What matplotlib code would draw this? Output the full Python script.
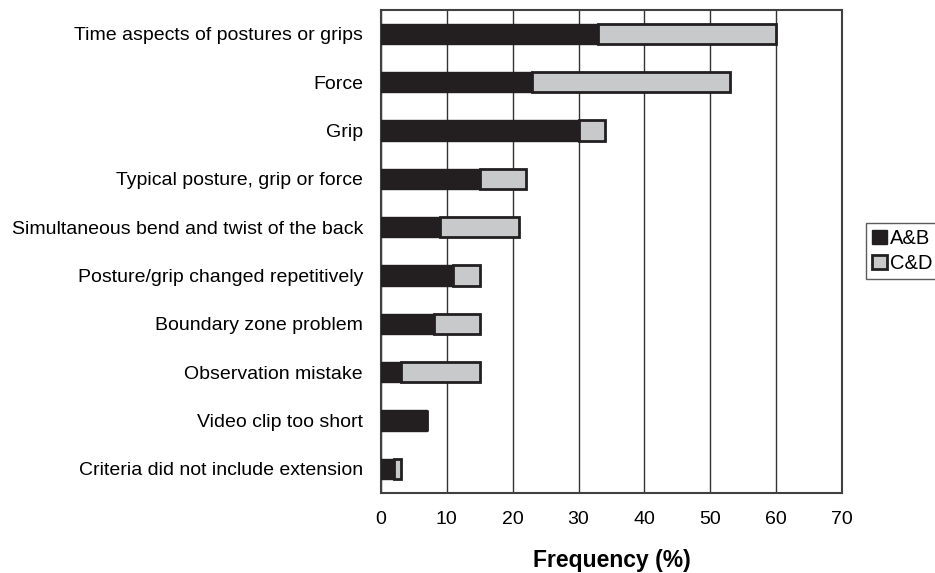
import matplotlib.pyplot as plt
import numpy as np

plt.rcParams['font.family'] = ['Liberation Sans', 'DejaVu Sans']

# data (top to bottom as in the chart)
categories = ['Time aspects of postures or grips', 'Force', 'Grip',
              'Typical posture, grip or force',
              'Simultaneous bend and twist of the back',
              'Posture/grip changed repetitively', 'Boundary zone problem',
              'Observation mistake', 'Video clip too short',
              'Criteria did not include extension']
ab = [33, 23, 30, 15, 9, 11, 8, 3, 7, 2]
cd = [27, 30, 4, 7, 12, 4, 7, 12, 0, 1]
xticks = [0, 10, 20, 30, 40, 50, 60, 70]

dark = '#231f20'
grey = '#c8c9cb'

fig = plt.figure(figsize=(9.35, 5.73), dpi=100)
ax = fig.add_axes([0.4075, 0.1396, 0.493, 0.8438])

y = np.arange(len(categories))
h = 0.42
ax.barh(y, ab, height=h, color=dark, edgecolor=dark, linewidth=1, label='A&B', zorder=3)
ax.barh(y, cd, left=ab, height=h, color=grey, edgecolor=dark, linewidth=2,
        label='C&D', zorder=3)

ax.set_xlim(0, 70)
ax.set_ylim(len(categories) - 0.5, -0.5)
ax.set_yticks(y)
ax.set_yticklabels(categories, fontsize=14)
ax.set_xticks(xticks)
ax.set_xticklabels([str(t) for t in xticks], fontsize=14)
ax.tick_params(axis='both', length=0)
ax.tick_params(axis='y', pad=13)
ax.tick_params(axis='x', pad=13)
ax.set_xlabel('Frequency (%)', fontsize=16.5, fontweight='bold', labelpad=15)

ax.grid(axis='x', color='#333333', linewidth=1, zorder=0)
for s in ax.spines.values():
    s.set_color('#404040')
    s.set_linewidth(1.5)

leg = fig.legend(loc='center left', bbox_to_anchor=(866 / 935, 0.562),
                 fontsize=14.5, frameon=True, fancybox=False,
                 handlelength=0.75, handleheight=0.75, handletextpad=0.15,
                 borderpad=0.3, labelspacing=0.3, borderaxespad=0)
leg.get_frame().set_edgecolor('#333333')
leg.get_frame().set_linewidth(1)

fig.savefig('out.png', dpi=100)
